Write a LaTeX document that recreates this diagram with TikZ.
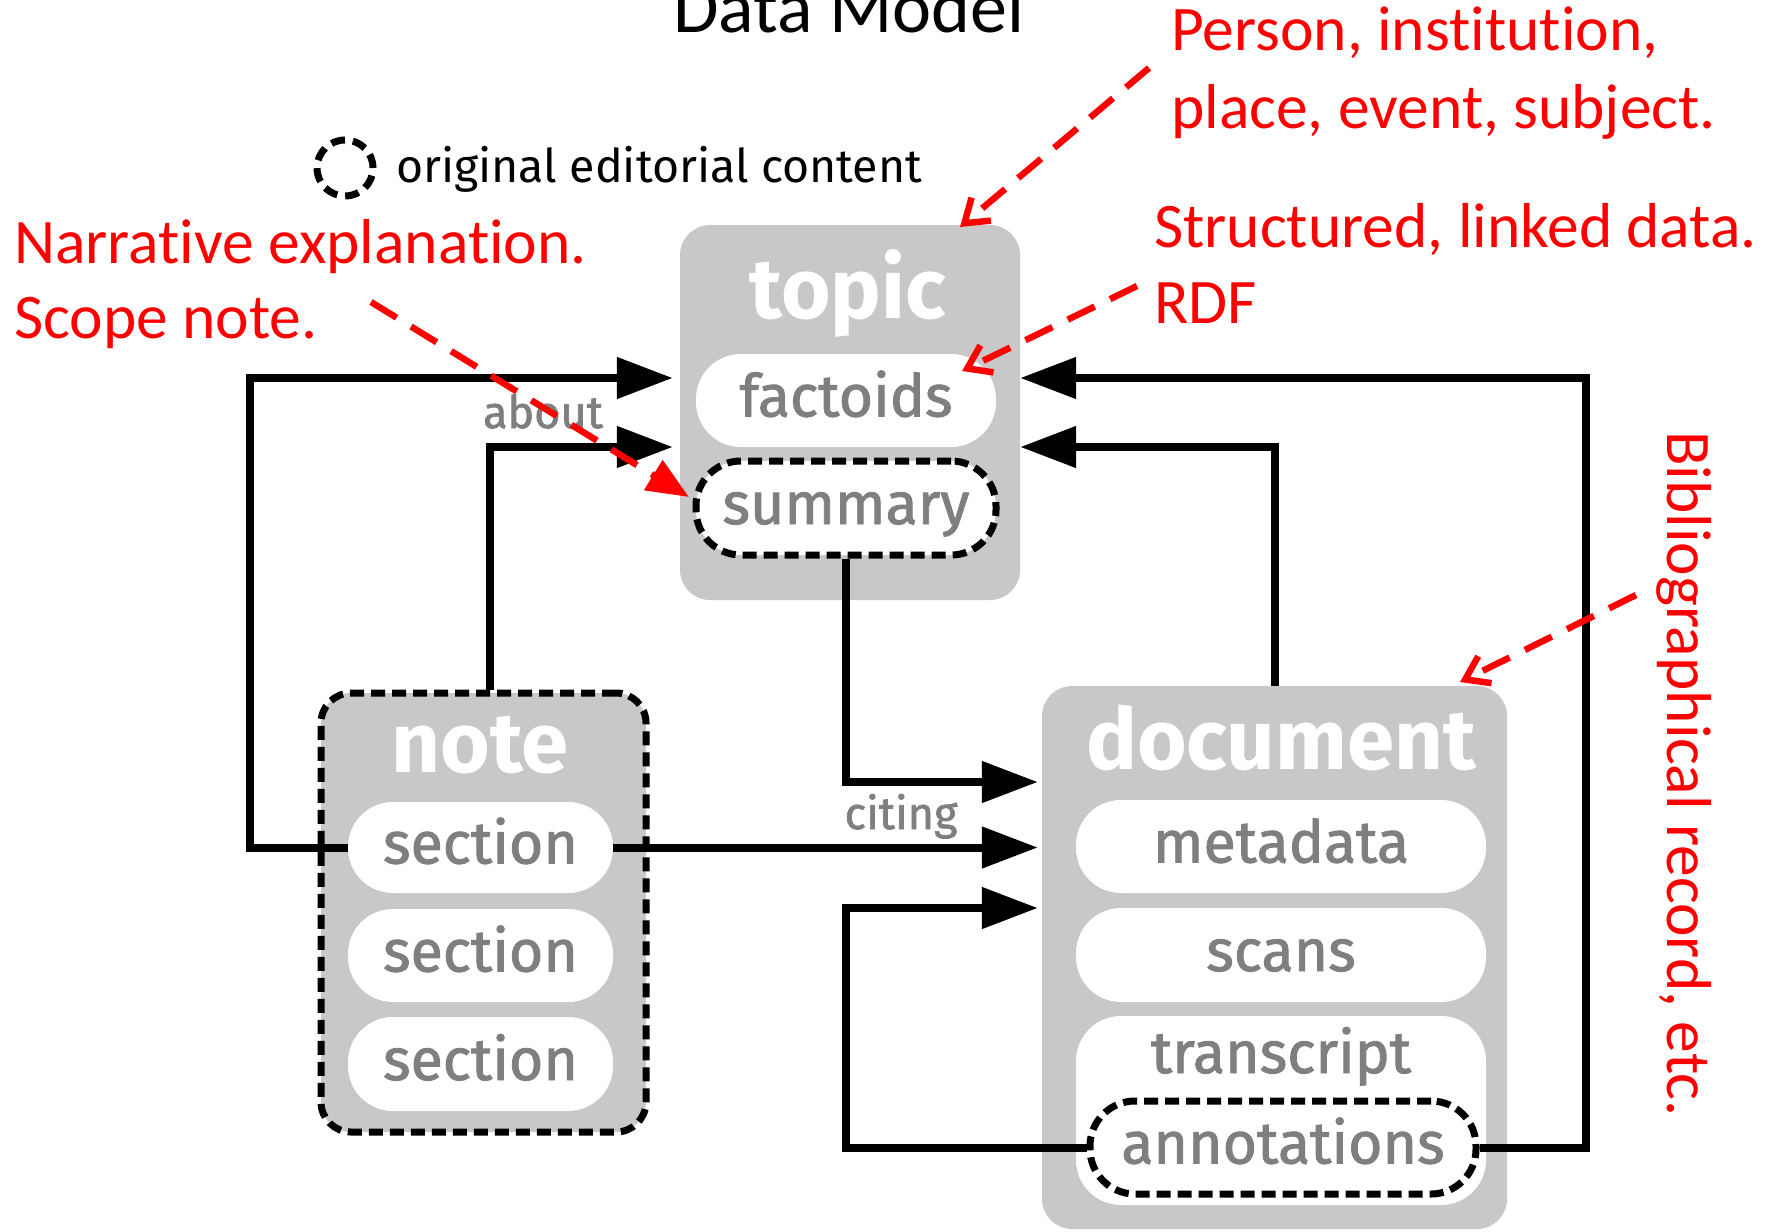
\documentclass[tikz,border=0pt]{standalone}
\usepackage{fontspec}
\setmainfont{Carlito}[Ligatures=NoCommon]
\newfontfamily\dmFira{Fira Sans}
\newfontfamily\dmFiraSB{Fira Sans}[FakeBold=1.5]
\usetikzlibrary{arrows.meta,calc}
\definecolor{boxgray}{HTML}{C8C8C8}
\definecolor{textgray}{HTML}{7F7F7F}
\newcommand\dmPill{\dmFiraSB\fontsize{59}{59}\selectfont}
\newcommand\dmHead{\dmFira\bfseries\fontsize{85}{85}\selectfont}
\newcommand\dmLbl{\dmFiraSB\fontsize{45}{45}\selectfont}
\newcommand\dmLeg{\dmFira\fontsize{46.5}{46.5}\selectfont}
\newcommand\dmRed{\fontsize{63.5}{77}\selectfont}
\newcommand\dmTitle{\fontsize{74}{74}\selectfont}
\tikzset{
  boxs/.style={fill=boxgray, rounded corners=30pt, inner sep=0pt},
  dashb/.style={draw=black, line width=7pt, dash pattern=on 14pt off 7pt},
  pill/.style={fill=white, rounded corners=45pt, inner sep=0pt, text height=32pt, text depth=0pt, font=\dmPill, text=textgray},
  head/.style={font=\dmHead, text=white, anchor=base, inner sep=0pt},
  conn/.style={line width=8pt, line join=miter, -{Triangle[length=56pt,width=40pt]}},
  lbl/.style={font=\dmLbl, text=textgray, anchor=base, inner sep=0pt},
  redtxt/.style={font=\dmRed, text=red, anchor=base west, inner sep=0pt},
  redarr/.style={draw=red, line width=6.5pt, dash pattern=on 30pt off 17pt, -{Straight Barb[length=22pt,width=30pt]}},
}
\begin{document}
\begin{tikzpicture}[x=1pt,y=-1pt]
\useasboundingbox (0,0) rectangle (1779,1231);
% title
\node[font=\dmTitle, anchor=base, inner sep=0pt] (title) at (849,33) {Data Model};
% legend
\node[circle, draw=black, line width=7pt, dash pattern=on 14pt off 8pt, minimum size=56pt, inner sep=0pt] (legc) at (345,168) {};
\node[font=\dmLeg, anchor=base west, inner sep=0pt] (legt) at (396,182) {original editorial content};
% topic
\node[boxs, minimum width=340pt, minimum height=375pt] (topic) at (850,412.5) {};
\node[head] (topict) at (848,318) {topic};
\node[pill, minimum width=300pt, minimum height=93pt] (factoids) at (846,400.5) {factoids};
\node[pill, dashb, minimum width=300pt, minimum height=94pt] (summary) at (846,508) {summary};
% note
\node[boxs, dashb, minimum width=325pt, minimum height=439pt] (note) at (483.5,912.5) {};
\node[head] (notet) at (480,772) {note};
\node[pill, minimum width=265pt, minimum height=91pt] (sec1) at (480.5,847.5) {section};
\node[pill, minimum width=265pt, minimum height=93pt] (sec2) at (480.5,955.5) {section};
\node[pill, minimum width=265pt, minimum height=94pt] (sec3) at (480.5,1064) {section};
% document
\node[boxs, minimum width=465pt, minimum height=543pt] (document) at (1274.5,957.5) {};
\node[head] (documentt) at (1281,769) {document};
\node[pill, minimum width=410pt, minimum height=93pt] (metadata) at (1281,846.5) {metadata};
\node[pill, minimum width=410pt, minimum height=94pt] (scans) at (1281,955) {scans};
\node[fill=white, rounded corners=45pt, inner sep=0pt, minimum width=410pt, minimum height=189pt] (transcript) at (1281,1110.5) {};
\node[font=\dmPill, text=textgray, anchor=base, inner sep=0pt] (transcriptt) at (1281,1073) {transcript};
\node[pill, dashb, minimum width=386pt, minimum height=93pt] (annotations) at (1283,1147.5) {annotations};
% connectors
\draw[conn, shorten >=7pt] (sec1.west) -| (250,378) -- (topic.west |- 0,378);
\draw[conn, shorten >=7pt] ([xshift=6pt]note.north) |- (topic.west |- 0,447);
\draw[conn] (annotations.east) -| (1586,378) -- (topic.east |- 0,378);
\draw[conn] (document.north) |- (topic.east |- 0,447);
\draw[conn, shorten >=4pt] (summary.south) |- (document.west |- 0,782);
\draw[conn, shorten >=4pt] (sec1.east) -- (document.west |- sec1.east);
\draw[conn, shorten >=4pt] (annotations.west) -| (summary.south |- 0,908) -- (document.west |- 0,908);
\node[lbl] (about) at (543,428) {about};
\node[lbl] (citing) at (901,829) {citing};
% red annotations
\node[redtxt] (pers1) at (1171,51) {Person, institution,};
\node[redtxt] (pers2) at (1171,128) {place, event, subject.};
\node[redtxt] (str1) at (1154,247) {Structured, linked data.};
\node[redtxt] (str2) at (1154,323) {RDF};
\node[redtxt] (nar1) at (14,263) {Narrative explanation.};
\node[redtxt] (nar2) at (14,338) {Scope note.};
\node[redtxt, rotate=-90] (bib) at (1667,431) {Bibliographical record, etc.};
\coordinate (a1s) at (1149,68);
\coordinate (a1e) at (960,227);
\coordinate (a2s) at (1137,286);
\coordinate (a2e) at (962,371);
\coordinate (a3s) at (371,302);
\coordinate (a3e) at (689,497);
\coordinate (a4s) at (1636,595);
\coordinate (a4e) at (1460,682);
\draw[redarr] (a1s) -- (a1e);
\draw[redarr] (a2s) -- (a2e);
\draw[redarr, -{Triangle[length=42pt,width=34pt]}] (a3s) -- (a3e);
\draw[redarr] (a4s) -- (a4e);
\end{tikzpicture}
\end{document}
